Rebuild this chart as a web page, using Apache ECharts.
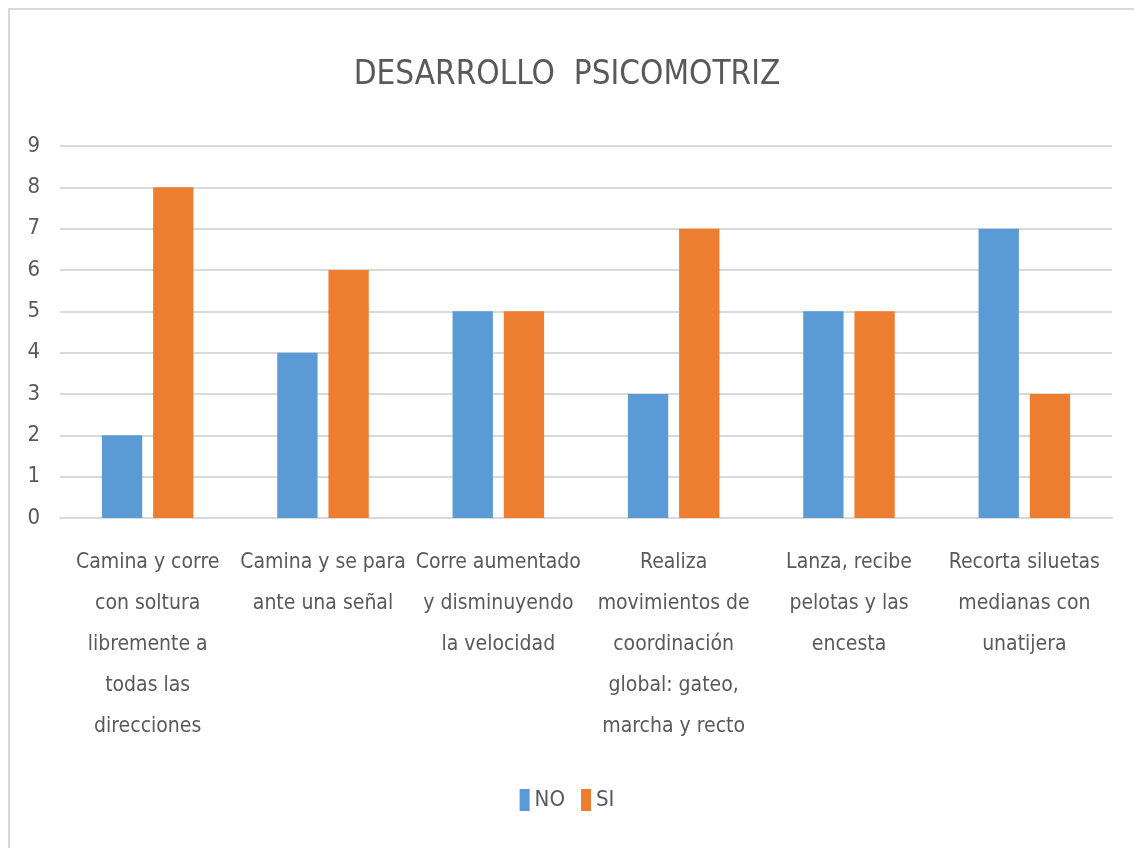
<!DOCTYPE html>
<html>
<head>
<meta charset="utf-8">
<script src="https://cdn.jsdelivr.net/npm/echarts@6/dist/echarts.min.js"></script>
<style>
  html, body { margin: 0; padding: 0; background: #fff; }
  #chart { width: 1134px; height: 848px; }
</style>
</head>
<body>
<div id="chart"></div>
<script>
var categories = [
  "Camina y corre\ncon soltura\nlibremente a\ntodas las\ndirecciones",
  "Camina y se para\nante una señal",
  "Corre aumentado\ny disminuyendo\nla velocidad",
  "Realiza\nmovimientos de\ncoordinación\nglobal: gateo,\nmarcha y recto",
  "Lanza, recibe\npelotas y las\nencesta",
  "Recorta siluetas\nmedianas con\nunatijera"
];
var noValues = [2, 4, 5, 3, 5, 7];
var siValues = [8, 6, 5, 7, 5, 3];

var font = "'Liberation Sans Narrow', 'DejaVu Sans Condensed', 'Liberation Sans', sans-serif";
var textColor = "#595959";

var myChart = echarts.init(document.getElementById("chart"), null, { renderer: "canvas" });

var option = {
  backgroundColor: "#fff",
  textStyle: { fontFamily: font, color: textColor },
  graphic: [
    {
      type: "rect",
      shape: { x: 9, y: 9, width: 1200, height: 1000 },
      style: { fill: "none", stroke: "#d9d9d9", lineWidth: 2 },
      silent: true
    }
  ],
  title: {
    text: "DESARROLLO  PSICOMOTRIZ",
    left: "center",
    top: 54,
    textStyle: { fontFamily: font, fontSize: 33, fontWeight: "normal", color: textColor }
  },
  legend: {
    data: ["NO", "SI"],
    bottom: 32,
    left: "center",
    icon: "rect",
    itemWidth: 10,
    itemHeight: 22,
    itemGap: 16,
    textStyle: { fontFamily: font, fontSize: 22, color: textColor }
  },
  grid: { left: 60, right: 22, top: 146, bottom: 330, containLabel: false },
  xAxis: {
    type: "category",
    data: categories,
    axisTick: { show: false },
    axisLine: { lineStyle: { color: "#d9d9d9", width: 2 } },
    axisLabel: {
      interval: 0,
      margin: 24,
      fontFamily: font,
      fontSize: 21,
      lineHeight: 41,
      color: textColor,
      align: "center"
    }
  },
  yAxis: {
    type: "value",
    min: 0,
    max: 9,
    interval: 1,
    axisLine: { show: false },
    axisTick: { show: false },
    axisLabel: { margin: 20, fontFamily: font, fontSize: 22, color: textColor },
    splitLine: { lineStyle: { color: "#d9d9d9", width: 2 } }
  },
  series: [
    {
      name: "NO",
      type: "bar",
      data: noValues,
      barWidth: "23%",
      barGap: "27%",
      itemStyle: { color: "#5B9BD5" }
    },
    {
      name: "SI",
      type: "bar",
      data: siValues,
      barWidth: "23%",
      itemStyle: { color: "#ED7D31" }
    }
  ]
};

myChart.setOption(option);
window.addEventListener("resize", myChart.resize);
</script>
</body>
</html>
